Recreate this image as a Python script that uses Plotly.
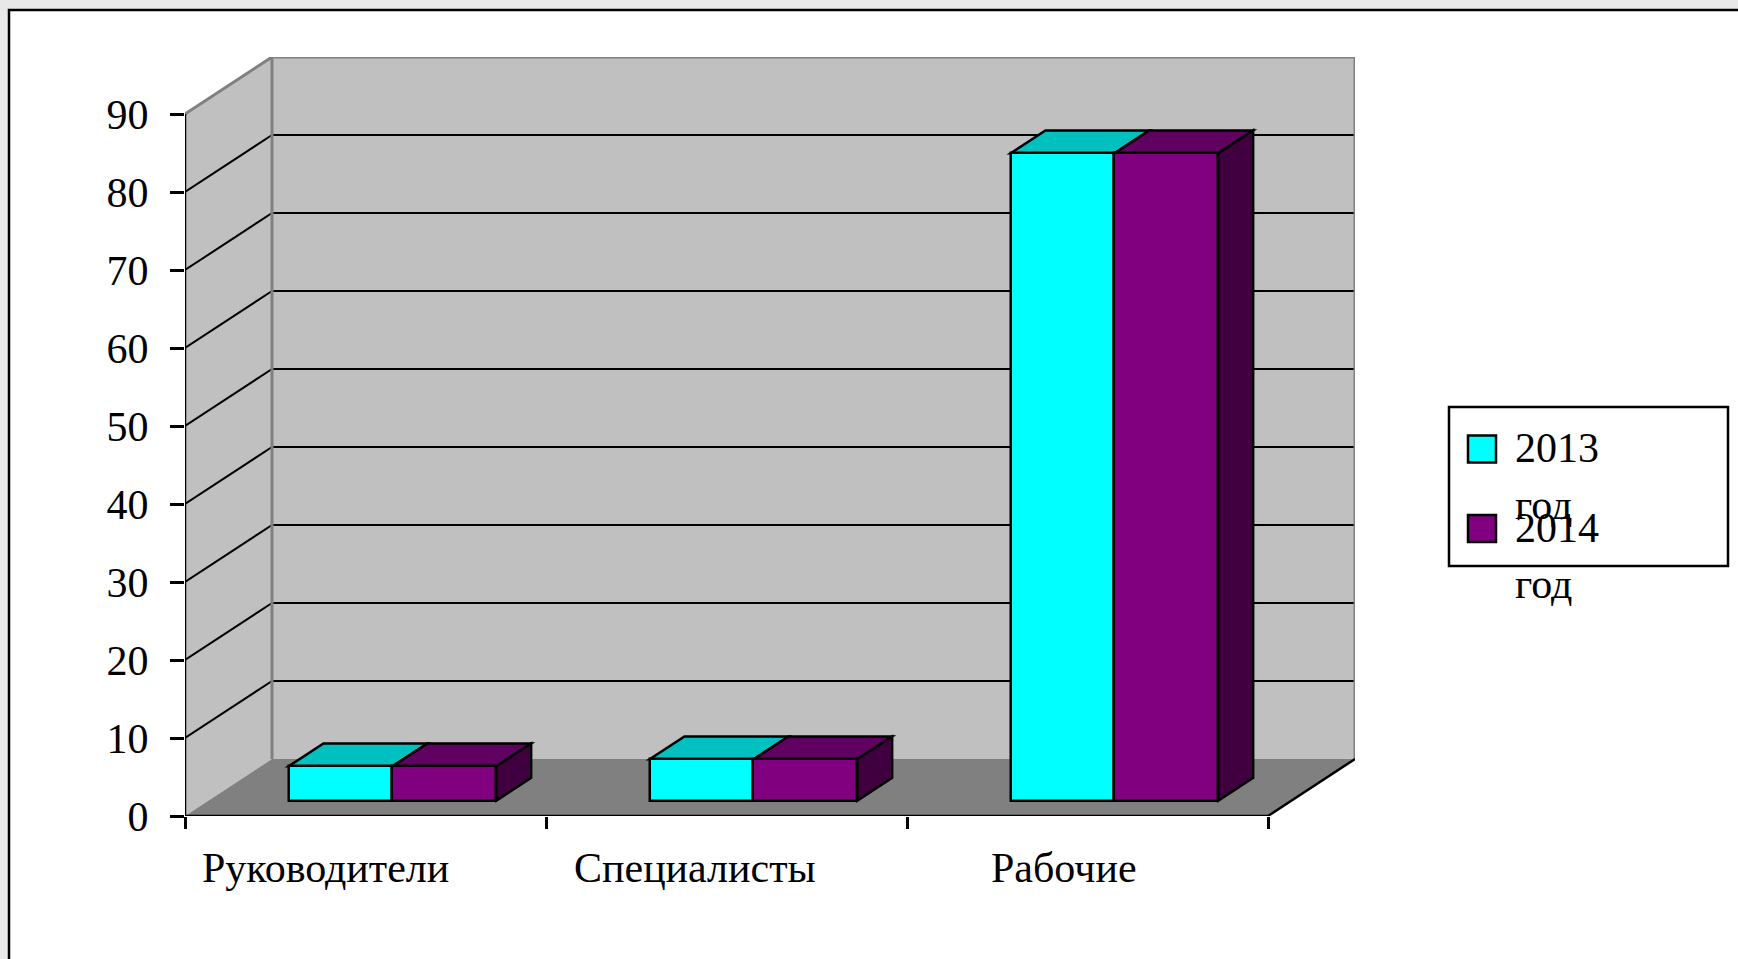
import plotly.graph_objects as go

# ---------------- data ----------------
categories = ['Руководители', 'Специалисты', 'Рабочие']
series_names = ['2013 год', '2014 год']
values_2013 = [4.4, 5.3, 83.0]
values_2014 = [4.4, 5.3, 83.0]
y_tick_values = [0, 10, 20, 30, 40, 50, 60, 70, 80, 90]

series_values = [values_2013, values_2014]

# ---------------- style / geometry ----------------
W, H = 1738, 959
ML, MR, MT, MB = 185, 383, 57, 143
PW = W - ML - MR
PH = H - MT - MB
Y_MAX = 90
DEPTH_X = 0.241   # depth offset in category units
DEPTH_Y = 7.31    # depth offset in value units
F0 = 0.27         # front of bars (fraction of depth)
DF = 0.40         # bar depth (fraction of depth)
GROUP_LEFT = 0.222
BAR_W = 0.2877
FONT = 'Liberation Serif'
FS = 42

FRONT = ['#00FFFF', '#800080']
TOP = ['#00C0C0', '#600060']
SIDE = ['#008080', '#400040']
WALL = '#C0C0C0'
FLOOR = '#808080'
EDGE = '#808080'

n = len(categories)
X_MAX = n + DEPTH_X
Y_TOP = Y_MAX + DEPTH_Y


def pxx(px):
    return (px - ML) / PW


def pxy(py):
    return (H - MB - py) / PH


shapes = []
# outer frame
shapes.append(dict(type='rect', xref='paper', yref='paper', x0=pxx(9), x1=pxx(1760),
                   y0=pxy(10), y1=pxy(990), fillcolor='white',
                   line=dict(color='black', width=2.5), layer='below'))
# back wall
shapes.append(dict(type='rect', xref='x', yref='y', x0=DEPTH_X, x1=n + DEPTH_X,
                   y0=DEPTH_Y, y1=Y_MAX + DEPTH_Y, fillcolor=WALL,
                   line=dict(width=0), layer='below'))
# side wall
shapes.append(dict(type='path', xref='x', yref='y',
                   path=f'M 0,0 L {DEPTH_X},{DEPTH_Y} L {DEPTH_X},{Y_MAX + DEPTH_Y} L 0,{Y_MAX} Z',
                   fillcolor=WALL, line=dict(width=0), layer='below'))
# floor
shapes.append(dict(type='path', xref='x', yref='y',
                   path=f'M 0,0 L {n},0 L {n + DEPTH_X},{DEPTH_Y} L {DEPTH_X},{DEPTH_Y} Z',
                   fillcolor=FLOOR, line=dict(width=0), layer='below'))
# gridlines
for t in y_tick_values[1:-1]:
    shapes.append(dict(type='line', xref='x', yref='y', x0=0, y0=t, x1=DEPTH_X, y1=t + DEPTH_Y,
                       line=dict(color='black', width=2), layer='below'))
    shapes.append(dict(type='line', xref='x', yref='y', x0=DEPTH_X, y0=t + DEPTH_Y,
                       x1=n + DEPTH_X, y1=t + DEPTH_Y,
                       line=dict(color='black', width=2), layer='below'))
# wall edges (grey)
for (xa, ya, xb, yb) in [(0, Y_MAX, DEPTH_X, Y_MAX + DEPTH_Y),
                         (DEPTH_X, Y_MAX + DEPTH_Y, n + DEPTH_X, Y_MAX + DEPTH_Y),
                         (DEPTH_X, DEPTH_Y, DEPTH_X, Y_MAX + DEPTH_Y),
                         (n + DEPTH_X, DEPTH_Y, n + DEPTH_X, Y_MAX + DEPTH_Y)]:
    shapes.append(dict(type='line', xref='x', yref='y', x0=xa, y0=ya, x1=xb, y1=yb,
                       line=dict(color=EDGE, width=3), layer='below'))
# axis lines (black)
for (xa, ya, xb, yb) in [(0, 0, 0, Y_MAX), (0, 0, n, 0), (n, 0, n + DEPTH_X, DEPTH_Y)]:
    shapes.append(dict(type='line', xref='x', yref='y', x0=xa, y0=ya, x1=xb, y1=yb,
                       line=dict(color='black', width=2.5), layer='below'))

# bar top & side faces
ddx = DF * DEPTH_X
ddy = DF * DEPTH_Y
base = F0 * DEPTH_Y
for s, vals in enumerate(series_values):
    for i, v in enumerate(vals):
        xl = i + GROUP_LEFT + s * BAR_W + F0 * DEPTH_X
        xr = xl + BAR_W
        yt = base + v
        shapes.append(dict(type='path', xref='x', yref='y',
                           path=f'M {xl},{yt} L {xr},{yt} L {xr + ddx},{yt + ddy} L {xl + ddx},{yt + ddy} Z',
                           fillcolor=TOP[s], line=dict(color='black', width=2.5), layer='below'))
        if s == len(series_values) - 1:
            shapes.append(dict(type='path', xref='x', yref='y',
                               path=f'M {xr},{base} L {xr},{yt} L {xr + ddx},{yt + ddy} L {xr + ddx},{base + ddy} Z',
                               fillcolor=SIDE[s], line=dict(color='black', width=2.5), layer='below'))

fig = go.Figure()
for s, vals in enumerate(series_values):
    xs = [i + GROUP_LEFT + (s + 0.5) * BAR_W + F0 * DEPTH_X for i in range(n)]
    fig.add_trace(go.Bar(x=xs, y=vals, base=[base] * n, width=BAR_W, name=series_names[s],
                         marker=dict(color=FRONT[s], line=dict(color='black', width=2.5)),
                         showlegend=False, hoverinfo='skip'))

annotations = []
# category labels
for i, c in enumerate(categories):
    annotations.append(dict(text=c, xref='x', yref='paper', x=i + 0.39 + 0.022 * i,
                            y=pxy(843), xanchor='center', yanchor='top', showarrow=False,
                            font=dict(family=FONT, size=FS, color='black')))

# legend
LEG_X0, LEG_X1, LEG_Y0, LEG_Y1 = 1449, 1728, 407, 566
shapes.append(dict(type='rect', xref='paper', yref='paper', x0=pxx(LEG_X0), x1=pxx(LEG_X1),
                   y0=pxy(LEG_Y0), y1=pxy(LEG_Y1), fillcolor='white',
                   line=dict(color='black', width=2.5), layer='above'))
ENTRY_STEP = 79.5
LINE_STEP = 56.5
for s, name in enumerate(series_names):
    mtop = 435.5 + s * ENTRY_STEP
    shapes.append(dict(type='rect', xref='paper', yref='paper', x0=pxx(1468), x1=pxx(1496),
                       y0=pxy(mtop), y1=pxy(mtop + 27), fillcolor=FRONT[s],
                       line=dict(color='black', width=2.5), layer='above'))
    for k, word in enumerate(name.split(' ')):
        ttop = 423 + s * ENTRY_STEP + k * LINE_STEP
        annotations.append(dict(text=word, xref='paper', yref='paper', x=pxx(1513),
                                y=pxy(ttop), xanchor='left', yanchor='top', showarrow=False,
                                font=dict(family=FONT, size=FS, color='black')))

fig.update_layout(
    width=W, height=H, autosize=False,
    margin=dict(l=ML, r=MR, t=MT, b=MB, pad=0),
    paper_bgcolor='#e8e8e8', plot_bgcolor='rgba(0,0,0,0)',
    barmode='overlay', bargap=0,
    shapes=shapes, annotations=annotations,
    xaxis=dict(range=[0, X_MAX], tickvals=list(range(n + 1)), ticktext=[''] * (n + 1),
               ticks='outside', ticklen=12, tickwidth=2.5, tickcolor='black',
               showgrid=False, zeroline=False, showline=False, fixedrange=True),
    yaxis=dict(range=[0, Y_TOP], tickvals=y_tick_values, ticks='outside', ticklen=14,
               tickwidth=2.5, tickcolor='black', ticklabelstandoff=13,
               tickfont=dict(family=FONT, size=FS, color='black'),
               showgrid=False, zeroline=False, showline=False, fixedrange=True),
    showlegend=False,
)

fig.write_html('out.html', config={'displayModeBar': False},
               post_script="document.body.style.margin='0px';")
